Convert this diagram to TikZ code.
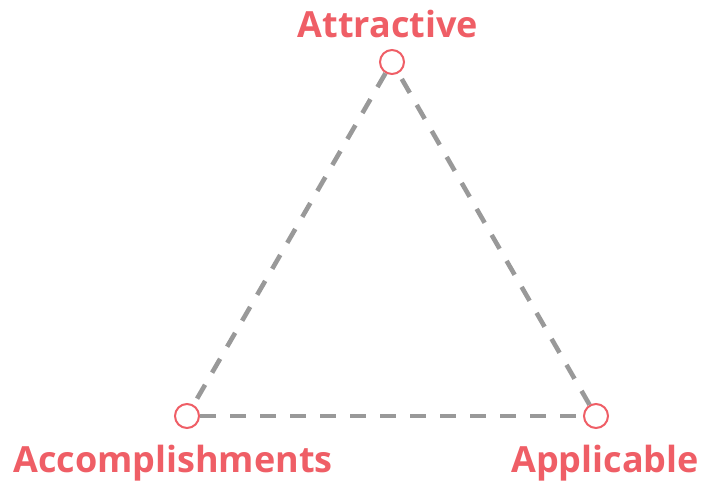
\documentclass[tikz,border=0pt]{standalone}
\usepackage{fontspec}
\setmainfont{Open Sans}
\usepackage{tikz}
\usepackage{xcolor}
\definecolor{vertexred}{RGB}{239,94,102}
\definecolor{edgegray}{RGB}{153,153,153}

\begin{document}
\begin{tikzpicture}[x=1pt, y=-1pt,
    vertex/.style={circle, draw=vertexred, line width=2pt, fill=white, minimum size=24pt, inner sep=0pt},
    edge/.style={edgegray, line width=4.6pt, dash pattern=on 16pt off 14pt},
    tag/.style={vertexred, font=\fontsize{36}{40}\selectfont\bfseries, inner sep=0pt}]
    \useasboundingbox (0,0) rectangle (701,482);

    % corners
    \node[vertex] (attr) at (392,62) {};
    \node[vertex] (acc) at (187,416) {};
    \node[vertex] (app) at (596,416) {};

    % sides
    \draw[edge] (attr) -- (acc);
    \draw[edge] (acc) -- (app);
    \draw[edge] (app) -- (attr);

    % labels
    \node[tag, anchor=base] at (388,37) {Attractive};
    \node[tag, anchor=base] at (173,472) {Accomplishments};
    \node[tag, anchor=base] at (605,472) {Applicable};
\end{tikzpicture}
\end{document}
